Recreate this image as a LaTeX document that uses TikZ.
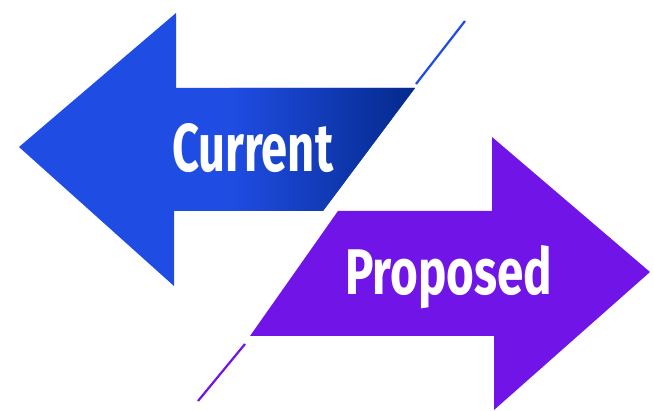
\documentclass[tikz,border=0pt]{standalone}
\usepackage{fontspec}
\setmainfont{Fira Sans}
\usepackage{tikz}
\usetikzlibrary{calc}

\definecolor{curblue}{HTML}{1F4DE3}
\definecolor{curnavy}{HTML}{04298C}
\definecolor{propviolet}{HTML}{7014E8}

\tikzset{
    arrowtext/.style = {text=white, inner sep=0pt, anchor=base west, font=\bfseries},
    cutline/.style = {line width=2.2pt}
}

\begin{document}
\begin{tikzpicture}[x=1pt,y=-1pt]
    \useasboundingbox (0,0) rectangle (654,411);

    % current : arrow to the left
    \fill[curblue] (19,147) -- (176,13) -- (176,88) -- (415,88) -- (323,211)
        -- (174,211) -- (174,286) -- cycle;
    \shade[left color=curblue, right color=curnavy]
        (230,88) -- (415,88) -- (323,211) -- (230,211) -- cycle;
    \draw[cutline, curblue] (416,84) -- (465,21);

    % proposed : arrow to the right
    \fill[propviolet] (650,272) -- (492,137) -- (492,211) -- (338,211) -- (250,336)
        -- (494,336) -- (494,410) -- cycle;
    \draw[cutline, propviolet] (245,344) -- (198,401);

    \node[arrowtext] (current) at (172,172) {\resizebox{161pt}{48pt}{Current}};
    \node[arrowtext] (proposed) at (345,295) {\resizebox{207pt}{49pt}{Proposed}};

\end{tikzpicture}
\end{document}
